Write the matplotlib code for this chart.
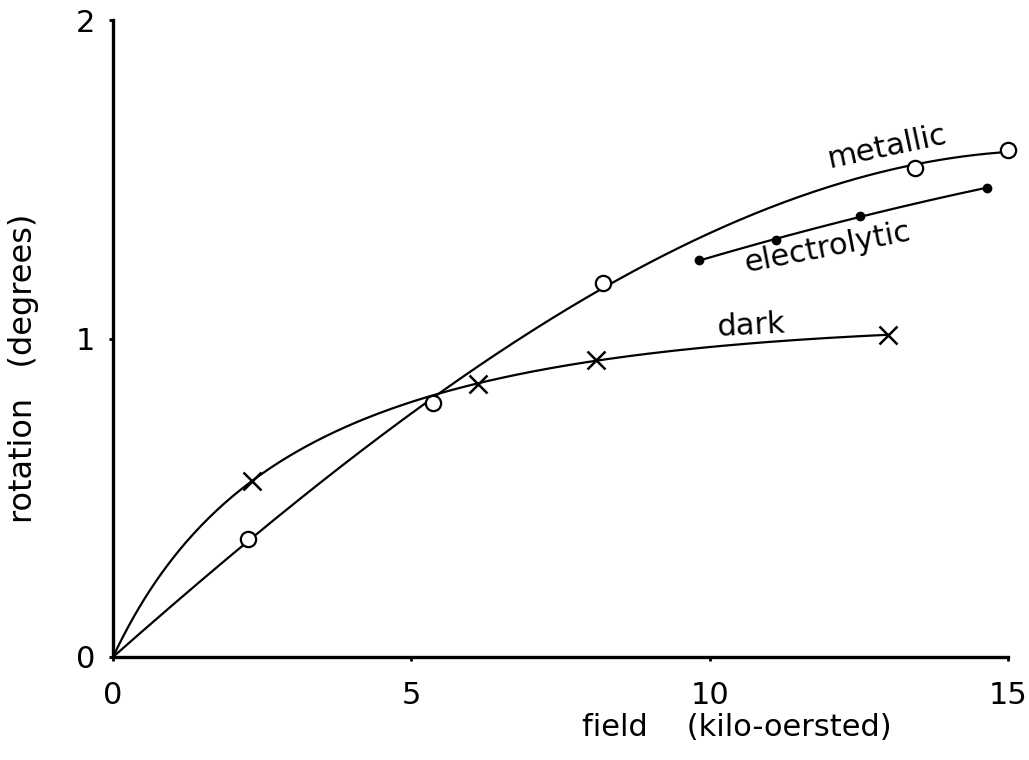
import numpy as np
import matplotlib
matplotlib.use("Agg")
import matplotlib.pyplot as plt

# 读图得到的数据 (field in kOe, rotation in degrees)
metallic_x = [2.26, 5.36, 8.21, 13.44, 15.0]
metallic_y = [0.370, 0.797, 1.174, 1.535, 1.592]

dark_x = [2.33, 6.12, 8.09, 12.99]
dark_y = [0.553, 0.857, 0.933, 1.011]

electro_x = [9.82, 11.11, 12.52, 14.65]
electro_y = [1.246, 1.309, 1.385, 1.473]

x_ticks = [0, 5, 10, 15]
y_ticks = [0, 1, 2]


# dark 曲线: y = a*x/(1+b*x) + c*x，b 网格搜索，a,c 最小二乘
def saturating_fit(x, y, xs):
    x = np.asarray(x, float)
    y = np.asarray(y, float)
    best = None
    for b in np.linspace(0.0, 2.0, 401):
        A = np.column_stack([x / (1 + b * x), x])
        coef, *_ = np.linalg.lstsq(A, y, rcond=None)
        err = np.sum((A @ coef - y) ** 2)
        if best is None or err < best[0]:
            best = (err, b, coef)
    _, b, coef = best
    return coef[0] * xs / (1 + b * xs) + coef[1] * xs


# metallic 曲线: 过原点的三次多项式
def cubic_origin_fit(x, y, xs):
    x = np.asarray(x, float)
    A = np.column_stack([x, x**2, x**3])
    coef, *_ = np.linalg.lstsq(A, np.asarray(y, float), rcond=None)
    return coef[0] * xs + coef[1] * xs**2 + coef[2] * xs**3


plt.rcParams['font.family'] = ['DejaVu Sans']

fig = plt.figure(figsize=(10.29, 7.6), dpi=100)
ax = fig.add_axes([113 / 1029, 103 / 760, 895 / 1029, 637 / 760])

lw = 1.6
xs = np.linspace(0, metallic_x[-1], 300)
ax.plot(xs, cubic_origin_fit(metallic_x, metallic_y, xs), color='black', lw=lw)

xs = np.linspace(0, dark_x[-1], 300)
ax.plot(xs, saturating_fit(dark_x, dark_y, xs), color='black', lw=lw)

xs = np.linspace(electro_x[0], electro_x[-1], 200)
p = np.polyfit(electro_x, electro_y, 2)
ax.plot(xs, np.polyval(p, xs), color='black', lw=lw)

# 数据点
ax.plot(metallic_x, metallic_y, 'o', ms=11, mfc='white', mec='black', mew=1.6, clip_on=False)
ax.plot(dark_x, dark_y, 'x', ms=13, color='black', mew=1.8)
ax.plot(electro_x, electro_y, 'o', ms=6, color='black')

# 标注
ax.text(12.97, 1.60, 'metallic', fontsize=22, rotation=12, ha='center', va='center')
ax.text(11.98, 1.285, 'electrolytic', fontsize=22, rotation=11, ha='center', va='center')
ax.text(10.69, 1.04, 'dark', fontsize=22, rotation=3, ha='center', va='center')

ax.set_xlim(0, 15)
ax.set_ylim(0, 2)
ax.set_xticks(x_ticks)
ax.set_yticks(y_ticks)
ax.tick_params(labelsize=22, length=3, width=2)
ax.tick_params(axis='x', pad=14)
ax.tick_params(axis='y', pad=10)
for s in ['top', 'right']:
    ax.spines[s].set_visible(False)
for s in ['left', 'bottom']:
    ax.spines[s].set_linewidth(2.4)

fig.text(737 / 1029, 1 - 727 / 760, 'field    (kilo-oersted)', fontsize=22,
         ha='center', va='center')
fig.text(24 / 1029, 1 - 368 / 760, 'rotation   (degrees)', fontsize=23,
         ha='center', va='center', rotation=90)

fig.savefig('out.png', dpi=100)
